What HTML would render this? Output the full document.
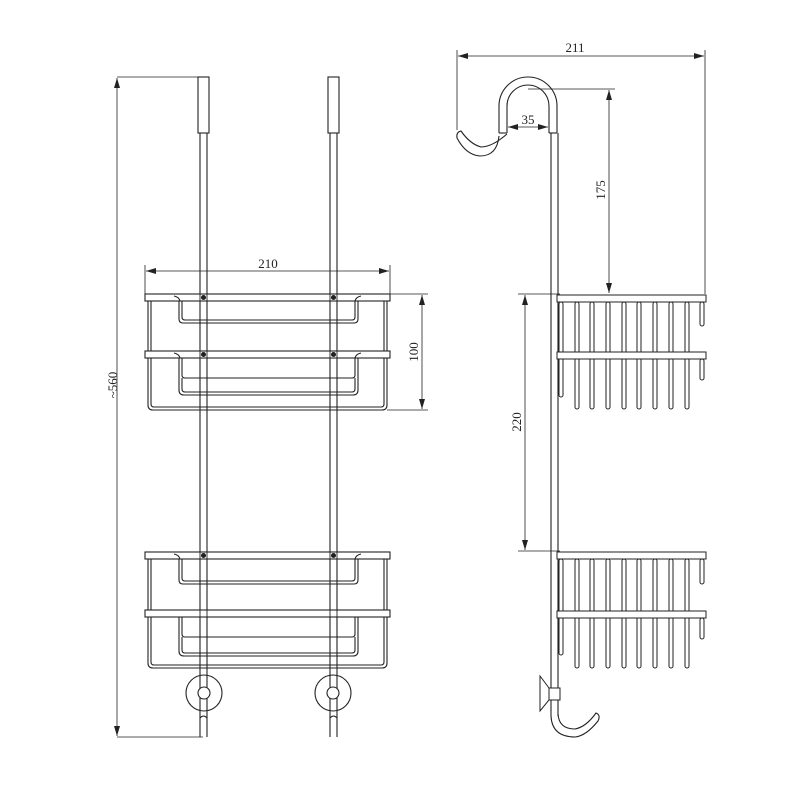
<!DOCTYPE html>
<html><head><meta charset="utf-8"><style>
html,body{margin:0;padding:0;background:#fff;}
svg{display:block;}
text{font-family:"Liberation Serif",serif;font-size:13px;fill:#222;}
</style></head><body>
<svg width="800" height="800" viewBox="0 0 800 800" xmlns="http://www.w3.org/2000/svg">
<defs>
<marker id="ar" viewBox="0 0 10 6" refX="10" refY="3" markerWidth="10" markerHeight="6" orient="auto-start-reverse" markerUnits="userSpaceOnUse">
<path d="M0,0 L10,3 L0,6 z" fill="#222"/></marker>
</defs>
<g fill="none" stroke="#222" stroke-width="1.1">
<line x1="117" y1="77" x2="198" y2="77" stroke-width="0.8"/>
<line x1="117" y1="737" x2="203" y2="737" stroke-width="0.8"/>
<line x1="117" y1="78" x2="117" y2="736" stroke-width="0.8" marker-start="url(#ar)" marker-end="url(#ar)"/>
<line x1="200" y1="133" x2="200" y2="737"/><line x1="207" y1="133" x2="207" y2="737"/>
<line x1="330" y1="133" x2="330" y2="737"/><line x1="337" y1="133" x2="337" y2="737"/>
<rect x="198" y="77" width="11" height="56" fill="#fff"/>
<rect x="328" y="77" width="11" height="56" fill="#fff"/>

<rect x="145" y="294" width="245" height="7" fill="#fff"/>
<path d="M148,301 V405 Q148,410 153,410 H382 Q387,410 387,405 V301"/>
<path d="M151,301 V404 Q151,407 154,407 H381 Q384,407 384,404 V301"/>
<path d="M179,301 V319 Q179,323 183,323 H354 Q358,323 358,319 V301"/>
<path d="M182,301 V317 Q182,320 185,320 H352 Q355,320 355,317 V301"/>
<rect x="145" y="351" width="245" height="7" fill="#fff"/>
<path d="M179,358 V390 Q179,395 184,395 H353 Q358,395 358,390 V358"/>
<path d="M182,358 V375 Q182,378 185,378 H352 Q355,378 355,375 V358"/>
<path d="M182,378 V389 Q182,392 185,392 H352 Q355,392 355,389 V378"/>
<path d="M174,296 Q179,297 180,301 M361,296 Q356,297 355,301"/>
<path d="M174,353 Q179,354 180,358 M361,353 Q356,354 355,358"/>
<line x1="200" y1="294" x2="200" y2="410" stroke-width="0.9"/><line x1="207" y1="294" x2="207" y2="410" stroke-width="0.9"/>
<line x1="330" y1="294" x2="330" y2="410" stroke-width="0.9"/><line x1="337" y1="294" x2="337" y2="410" stroke-width="0.9"/>
<circle cx="203.5" cy="297.5" r="2" fill="#222"/><circle cx="333.5" cy="297.5" r="2" fill="#222"/>
<circle cx="203.5" cy="354.5" r="2" fill="#222"/><circle cx="333.5" cy="354.5" r="2" fill="#222"/>

<rect x="145" y="552" width="245" height="7" fill="#fff"/>
<path d="M148,559 V663 Q148,668 153,668 H382 Q387,668 387,663 V559"/>
<path d="M151,559 V662 Q151,665 154,665 H381 Q384,665 384,662 V559"/>
<path d="M179,559 V580 Q179,584 183,584 H354 Q358,584 358,580 V559"/>
<path d="M182,559 V578 Q182,581 185,581 H352 Q355,581 355,578 V559"/>
<rect x="145" y="610" width="245" height="7" fill="#fff"/>
<path d="M179,617 V651 Q179,656 184,656 H353 Q358,656 358,651 V617"/>
<path d="M182,617 V634 Q182,637 185,637 H352 Q355,637 355,634 V617"/>
<path d="M182,637 V650 Q182,653 185,653 H352 Q355,653 355,650 V637"/>
<path d="M174,554 Q179,555 180,559 M361,554 Q356,555 355,559"/>
<line x1="200" y1="552" x2="200" y2="668" stroke-width="0.9"/><line x1="207" y1="552" x2="207" y2="668" stroke-width="0.9"/>
<line x1="330" y1="552" x2="330" y2="668" stroke-width="0.9"/><line x1="337" y1="552" x2="337" y2="668" stroke-width="0.9"/>
<circle cx="203.5" cy="555.5" r="2" fill="#222"/><circle cx="333.5" cy="555.5" r="2" fill="#222"/>
<circle cx="204" cy="693" r="18"/><circle cx="204" cy="693" r="6" fill="#fff"/>
<circle cx="333" cy="693" r="18"/><circle cx="333" cy="693" r="6" fill="#fff"/>
<path d="M200,718 Q203.5,714 207,718 M330,718 Q333.5,714 337,718"/>
<line x1="145" y1="265" x2="145" y2="294" stroke-width="0.8"/>
<line x1="390" y1="265" x2="390" y2="294" stroke-width="0.8"/>
<line x1="146" y1="271" x2="389" y2="271" stroke-width="0.8" marker-start="url(#ar)" marker-end="url(#ar)"/>
<line x1="390" y1="294" x2="428" y2="294" stroke-width="0.8"/>
<line x1="387" y1="410" x2="428" y2="410" stroke-width="0.8"/>
<line x1="422" y1="295" x2="422" y2="409" stroke-width="0.8" marker-start="url(#ar)" marker-end="url(#ar)"/>

<line x1="457" y1="50" x2="457" y2="130" stroke-width="0.8"/>
<line x1="705" y1="50" x2="705" y2="294" stroke-width="0.8"/>
<line x1="458" y1="56" x2="704" y2="56" stroke-width="0.8" marker-start="url(#ar)" marker-end="url(#ar)"/>
<path d="M499,133 V106 A29,29 0 0 1 557,106 V133"/>
<path d="M507,133 V106 A21,21 0 0 1 549,106 V133"/>
<line x1="499" y1="133" x2="507" y2="133"/><line x1="549" y1="133" x2="557" y2="133"/>
<path d="M499,136 Q497,156 480,156 Q466,155 457,138 Q456,132 461,131 Q470,144 481,147 Q492,147 507,134"/>
<line x1="551" y1="133" x2="551" y2="716"/><line x1="558" y1="133" x2="558" y2="716"/>
<line x1="508" y1="127" x2="548" y2="127" stroke-width="0.8" marker-start="url(#ar)" marker-end="url(#ar)"/>
<line x1="528" y1="89" x2="615" y2="89" stroke-width="0.8"/>
<line x1="609" y1="90" x2="609" y2="293" stroke-width="0.8" marker-start="url(#ar)" marker-end="url(#ar)"/>
<line x1="518" y1="294" x2="560" y2="294" stroke-width="0.8"/>
<line x1="518" y1="551" x2="560" y2="551" stroke-width="0.8"/>
<line x1="525" y1="295" x2="525" y2="550" stroke-width="0.8" marker-start="url(#ar)" marker-end="url(#ar)"/>
</g>
<g fill="#fff" stroke="#222" stroke-width="1">
<rect x="559" y="302" width="4" height="95" rx="2"/>
<rect x="575" y="302" width="4" height="107" rx="2"/><rect x="590" y="302" width="4" height="107" rx="2"/>
<rect x="606" y="302" width="4" height="107" rx="2"/><rect x="622" y="302" width="4" height="107" rx="2"/>
<rect x="637" y="302" width="4" height="107" rx="2"/><rect x="653" y="302" width="4" height="107" rx="2"/>
<rect x="669" y="302" width="4" height="107" rx="2"/><rect x="685" y="302" width="4" height="107" rx="2"/>
<rect x="700" y="302" width="4" height="24" rx="2"/><rect x="700" y="359" width="4" height="21" rx="2"/>
<rect x="557" y="295" width="149" height="7"/>
<rect x="557" y="352" width="149" height="7"/>
<rect x="559" y="559" width="4" height="96" rx="2"/>
<rect x="575" y="559" width="4" height="109" rx="2"/><rect x="590" y="559" width="4" height="109" rx="2"/>
<rect x="606" y="559" width="4" height="109" rx="2"/><rect x="622" y="559" width="4" height="109" rx="2"/>
<rect x="637" y="559" width="4" height="109" rx="2"/><rect x="653" y="559" width="4" height="109" rx="2"/>
<rect x="669" y="559" width="4" height="109" rx="2"/><rect x="685" y="559" width="4" height="109" rx="2"/>
<rect x="700" y="559" width="4" height="25" rx="2"/><rect x="700" y="618" width="4" height="21" rx="2"/>
<rect x="557" y="552" width="149" height="7"/>
<rect x="557" y="611" width="149" height="7"/>
<path d="M540,676 L549,688 V700 L540,711 Z"/>
<rect x="549" y="688" width="11" height="12"/>
</g>
<g fill="none" stroke="#222" stroke-width="1.1">
<path d="M551,716 Q552,737 575,737 Q586,736 598,721 Q601,715 596,713 Q586,727 575,729 Q559,729 558,714"/>
</g>
<text x="268" y="268" text-anchor="middle">210</text>
<text transform="translate(418,352) rotate(-90)" text-anchor="middle">100</text>
<text transform="translate(117,385) rotate(-90)" text-anchor="middle">~560</text>
<text x="575" y="52" text-anchor="middle">211</text>
<text x="528" y="124" text-anchor="middle">35</text>
<text transform="translate(605,190) rotate(-90)" text-anchor="middle">175</text>
<text transform="translate(521,422) rotate(-90)" text-anchor="middle">220</text>
</svg>
</body></html>
